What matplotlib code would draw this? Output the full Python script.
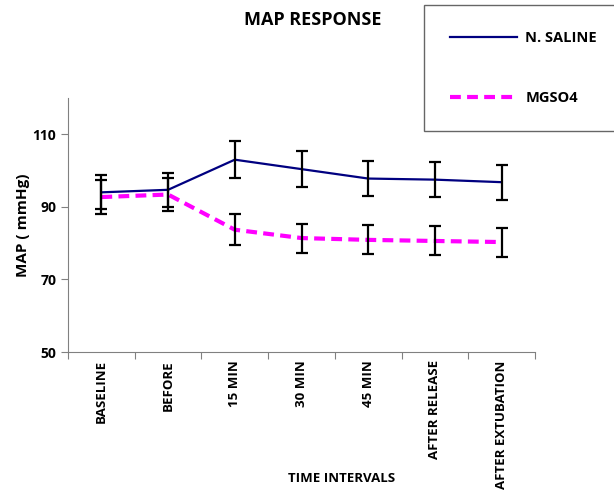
import matplotlib.pyplot as plt
import numpy as np

plt.rcParams['font.family'] = ['Open Sans', 'DejaVu Sans']
plt.rcParams['font.weight'] = 'bold'

# time points and mean arterial pressure (mean +/- SD)
intervals = ['BASELINE', 'BEFORE', '15 MIN', '30 MIN', '45 MIN',
             'AFTER RELEASE', 'AFTER EXTUBATION']
saline_mean = [94.0, 94.7, 103.0, 100.4, 97.8, 97.5, 96.8]
saline_sd = [4.7, 4.7, 5.1, 5.0, 4.9, 4.85, 4.8]
mgso4_mean = [92.7, 93.4, 83.7, 81.4, 80.9, 80.6, 80.3]
mgso4_sd = [4.6, 4.6, 4.2, 4.0, 4.0, 4.0, 4.0]

x = np.arange(len(intervals))

fig = plt.figure(figsize=(6.14, 4.95), dpi=100)
ax = fig.add_axes([68/614, 1 - 352/495, (535-68)/614, (352-98)/495])

l1, = ax.plot(x, saline_mean, color='#000080', lw=1.6, zorder=2)
l2, = ax.plot(x, mgso4_mean, color='#ff00ff', lw=3.0, ls=(0, (2.6, 1.5)), zorder=2)
ax.errorbar(x, saline_mean, yerr=saline_sd, fmt='none', ecolor='black',
            elinewidth=1.6, capsize=4.3, capthick=1.6, zorder=3)
ax.errorbar(x, mgso4_mean, yerr=mgso4_sd, fmt='none', ecolor='black',
            elinewidth=1.6, capsize=4.3, capthick=1.6, zorder=3)

ax.set_xlim(-0.5, len(intervals) - 0.5)
ax.set_ylim(50, 120)
ax.set_yticks([50, 70, 90, 110])
ax.set_xticks(np.arange(-0.5, len(intervals), 1.0))
ax.set_xticklabels([])
ax.set_xticks(x, minor=True)
ax.set_xticklabels(intervals, minor=True, rotation=90, fontsize=9.5, fontweight='bold')
ax.tick_params(axis='x', which='minor', length=0, pad=6)
ax.tick_params(axis='x', which='major', length=5, color='#808080')
ax.tick_params(axis='y', length=5, color='#808080', labelsize=10)

for s in ['top', 'right']:
    ax.spines[s].set_visible(False)
for s in ['left', 'bottom']:
    ax.spines[s].set_color('#808080')

ax.set_ylabel('MAP ( mmHg)', fontsize=11, fontweight='bold', labelpad=2)
fig.text(342/614, 1 - 478/495, 'TIME INTERVALS', ha='center', va='center',
         fontsize=9.5, fontweight='bold')
fig.text(313/614, 1 - 20/495, 'MAP RESPONSE', ha='center', va='center',
         fontsize=13, fontweight='bold')

leg = fig.legend([l1, l2], ['N. SALINE', 'MGSO4'], loc='upper left',
                 bbox_to_anchor=(424/614, 1 - 5/495), prop={'weight': 'bold', 'size': 10.5},
                 frameon=True, fancybox=False, borderpad=1.8, labelspacing=3.15,
                 handlelength=4.6, handletextpad=0.55, borderaxespad=0)
leg.get_frame().set_edgecolor('#404040')
leg.get_frame().set_linewidth(1.0)

fig.savefig('out.png', dpi=100)
